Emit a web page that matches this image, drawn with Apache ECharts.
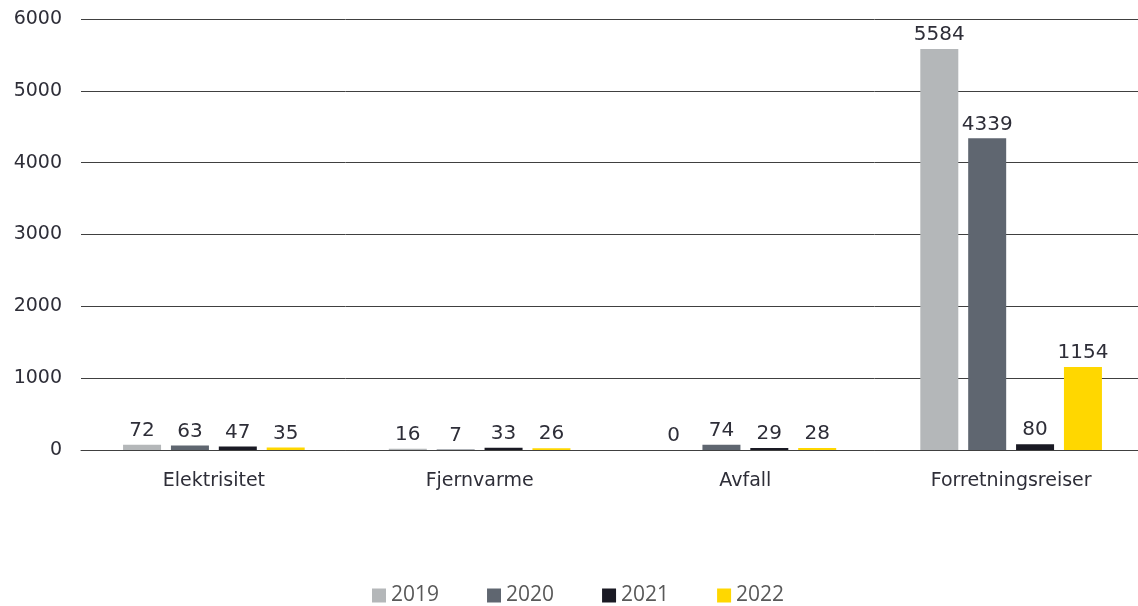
<!DOCTYPE html>
<html>
<head>
<meta charset="utf-8">
<script src="https://cdn.jsdelivr.net/npm/echarts@6/dist/echarts.min.js"></script>
<style>
	html, body { margin: 0; padding: 0; background: #fff; }
	#chart { width: 1138px; height: 606px; }
</style>
</head>
<body>
<div id="chart"></div>
<script>
var categories = ['Elektrisitet', 'Fjernvarme', 'Avfall', 'Forretningsreiser'];
var years = ['2019', '2020', '2021', '2022'];
var values2019 = [72, 16, 0, 5584];
var values2020 = [63, 7, 74, 4339];
var values2021 = [47, 33, 29, 80];
var values2022 = [35, 26, 28, 1154];
var colors = ['#b4b7b9', '#5f6670', '#1a1a24', '#ffd700'];

var chart = echarts.init(document.getElementById('chart'));

function makeSeries(name, data, color) {
	return {
		name: name,
		type: 'bar',
		data: data,
		barWidth: 38,
		barGap: '26%',
		itemStyle: { color: color },
		label: {
			show: true,
			position: 'top',
			distance: 4,
			color: '#2e2e38',
			fontSize: 20,
			fontFamily: 'DejaVu Sans'
		}
	};
}

var option = {
	animation: false,
	legend: {
		top: 580,
		left: 367,
		itemWidth: 14,
		itemHeight: 14,
		itemGap: 48,
		icon: 'rect',
		textStyle: { color: '#595959', fontSize: 21, fontFamily: 'Open Sans' },
		data: years
	},
	grid: {
		left: 81,
		right: -6,
		top: 19,
		bottom: 156,
		outerBoundsMode: 'none',
		containLabel: false
	},
	xAxis: {
		type: 'category',
		data: categories,
		axisTick: { show: false },
		axisLine: { lineStyle: { color: '#404040', width: 1 } },
		axisLabel: { color: '#2e2e38', fontSize: 19, fontFamily: 'DejaVu Sans', margin: 22 }
	},
	yAxis: {
		type: 'value',
		min: 0,
		max: 6000,
		interval: 1000,
		axisLine: { show: false },
		axisTick: { show: false },
		splitLine: { lineStyle: { color: '#404040', width: 1 } },
		axisLabel: {
			color: '#2e2e38',
			fontSize: 19,
			fontFamily: 'DejaVu Sans',
			margin: 19,
			formatter: function (v) { return String(v); }
		}
	},
	series: [
		makeSeries(years[0], values2019, colors[0]),
		makeSeries(years[1], values2020, colors[1]),
		makeSeries(years[2], values2021, colors[2]),
		makeSeries(years[3], values2022, colors[3])
	]
};

chart.setOption(option);
</script>
</body>
</html>
